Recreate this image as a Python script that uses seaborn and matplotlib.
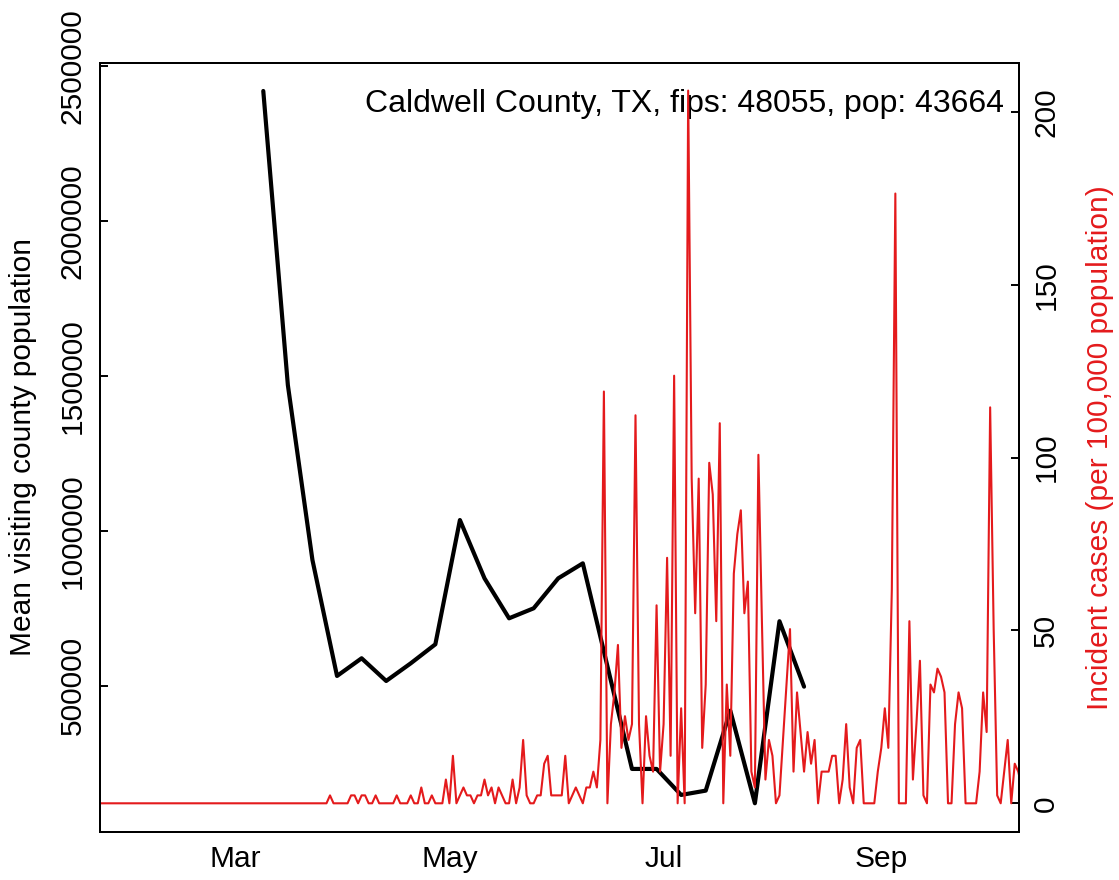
import numpy as np
import pandas as pd
import matplotlib
matplotlib.use("Agg")
import matplotlib.pyplot as plt
import matplotlib.dates as mdates
import matplotlib.ticker as mticker
import seaborn as sns

# ---------------- data ----------------
county_label = "Caldwell County, TX, fips: 48055, pop: 43664"
left_label = "Mean visiting county population"
right_label = "Incident cases (per 100,000 population)"

# weekly mean visiting county population (Mondays, from 2020-03-09)
mobility_start = "2020-03-09"
mobility_values = [2419000, 1470000, 905500, 531300, 588400, 515200, 572200,
                   633500, 1034500, 846400, 717400, 749700, 846400, 894800,
                   563000, 231300, 231300, 147400, 161300, 419400, 120600,
                   708000, 496800]

# daily incident cases per 100,000 (from 2020-01-22)
inc_jan = [0, 0, 0, 0, 0, 0, 0, 0, 0, 0]
inc_feb = [0, 0, 0, 0, 0, 0, 0, 0, 0, 0, 0, 0, 0, 0, 0, 0, 0, 0, 0, 0,
           0, 0, 0, 0, 0, 0, 0, 0, 0]
inc_mar = [0, 0, 0, 0, 0, 0, 0, 0, 0, 0, 0, 0, 0, 0, 0, 0, 0, 0, 0, 0,
           0, 0, 0, 0, 0, 0, 0, 2.29, 0, 0, 0]
inc_apr = [0, 0, 2.29, 2.29, 0, 2.29, 2.29, 0, 0, 2.29,
           0, 0, 0, 0, 0, 2.29, 0, 0, 0, 2.29,
           0, 0, 4.58, 0, 0, 2.29, 0, 0, 0, 6.87]
inc_may = [0, 13.74, 0, 2.29, 4.58, 2.29, 2.29, 0, 2.29, 2.29,
           6.87, 2.29, 4.58, 0, 4.58, 2.29, 0, 0, 6.87, 0,
           4.58, 18.32, 2.29, 0, 0, 2.29, 2.29, 11.45, 13.74, 2.29,
           2.29]
inc_jun = [2.29, 2.29, 13.74, 0, 2.29, 4.58, 2.29, 0, 4.58, 4.58,
           9.16, 4.58, 18.32, 119.09, 0, 22.90, 32.07, 45.80, 16.03, 25.19,
           18.32, 22.90, 112.22, 22.90, 0, 25.19, 13.74, 9.16, 57.26, 9.16]
inc_jul = [22.90, 71.00, 13.74, 123.67, 0, 27.48, 0, 206.12, 93.90, 54.96,
           93.90, 16.03, 34.35, 98.48, 89.32, 52.67, 109.93, 0, 34.35, 13.74,
           66.42, 77.87, 84.74, 54.96, 64.13, 9.16, 4.58, 100.79, 52.67, 6.87,
           18.32]
inc_aug = [13.74, 0, 2.29, 18.32, 34.35, 50.38, 9.16, 32.07, 20.61, 9.16,
           20.61, 11.45, 18.32, 0, 9.16, 9.16, 9.16, 13.74, 13.74, 0,
           6.87, 22.90, 4.58, 0, 16.03, 18.32, 0, 0, 0, 0,
           9.16]
inc_sep = [16.03, 27.48, 16.03, 61.84, 176.35, 0, 0, 0, 52.67, 6.87,
           22.90, 41.22, 2.29, 0, 34.35, 32.07, 38.94, 36.64, 32.07, 0,
           0, 22.90, 32.07, 27.48, 0, 0, 0, 0, 9.16, 32.07]
inc_oct = [20.61, 114.51, 50.38, 2.29, 0, 9.16, 18.32, 0, 11.45, 9.16, 4.58]
cases_start = "2020-01-22"

left_ticks = [500000, 1000000, 1500000, 2000000, 2500000]
right_ticks = [0, 50, 100, 150, 200]
month_ticks = ["2020-03-01", "2020-05-01", "2020-07-01", "2020-09-01"]
month_labels = ["Mar", "May", "Jul", "Sep"]

# ---------------- frames ----------------
incidence = inc_jan + inc_feb + inc_mar + inc_apr + inc_may + inc_jun + inc_jul + inc_aug + inc_sep + inc_oct
cases_df = pd.DataFrame({
    "date": pd.date_range(cases_start, periods=len(incidence), freq="D"),
    "incidence": incidence,
})
mob_df = pd.DataFrame({
    "date": pd.date_range(mobility_start, periods=len(mobility_values), freq="7D"),
    "visitors": mobility_values,
})

# ---------------- style ----------------
sns.set_theme(style="white")
plt.rcParams['font.family'] = ['Liberation Sans', 'DejaVu Sans']
RED = "#E41A1C"
FS = 21.5

W, H = 1119, 880
fig = plt.figure(figsize=(W / 100, H / 100), dpi=100)
L, R, T, B = 100, 1019.3, 63, 832
ax = fig.add_axes([L / W, (H - B) / H, (R - L) / W, (B - T) / H])
ax2 = ax.twinx()

sns.lineplot(data=mob_df, x="date", y="visitors", ax=ax, color="black",
             linewidth=3.0, legend=False)
sns.lineplot(data=cases_df, x="date", y="incidence", ax=ax2, color=RED,
             linewidth=1.5, legend=False)

mar1 = pd.Timestamp("2020-03-01")
ax.set_xlim(mar1 + pd.Timedelta(days=-38.5), mar1 + pd.Timedelta(days=223.3))
ax.set_ylim(27800, 2509300)
ax2.set_ylim(-8.3, 214.1)

ax.set_xticks(pd.to_datetime(month_ticks))
ax.set_xticklabels(month_labels, fontsize=FS)
ax.set_yticks(left_ticks)
ax.set_yticklabels([str(v) for v in left_ticks], fontsize=FS, rotation=90, va="center")
ax2.set_yticks(right_ticks)
ax2.set_yticklabels([str(v) for v in right_ticks], fontsize=FS, rotation=90, va="center")

pad_pt = 13 * 0.72
for a in (ax, ax2):
    a.tick_params(direction="in", length=8 * 0.72, width=1.4, color="black",
                  pad=pad_pt, labelcolor="black")
    for s in a.spines.values():
        s.set_color("black")
        s.set_linewidth(1.4)
    a.grid(False)

ax.set_xlabel("")
ax.set_ylabel(left_label, fontsize=FS, color="black")
ax.yaxis.set_label_coords((23 - L) / (R - L), 0.5)
ax.yaxis.label.set_va("center")
ax2.set_ylabel(right_label, fontsize=FS, color=RED, rotation=90)
ax2.yaxis.set_label_coords((1100 - L) / (R - L), 0.5)
ax2.yaxis.label.set_va("center")

ax.text((1004 - L) / (R - L), (B - 104) / (B - T), county_label,
        transform=ax.transAxes, ha="right", va="center", fontsize=23, color="black")

fig.savefig("out.png", dpi=100)
